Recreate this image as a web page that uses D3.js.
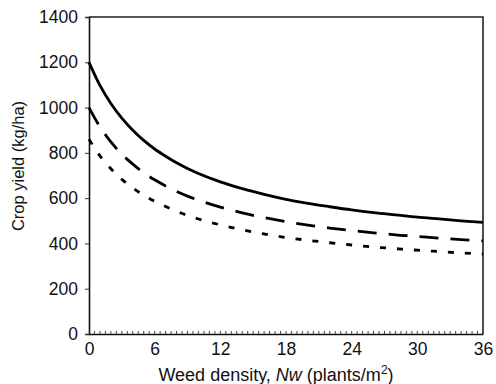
<!DOCTYPE html>
<html>
<head>
<meta charset="utf-8">
<script src="https://cdn.jsdelivr.net/npm/d3@7"></script>
<style>
  html, body { margin: 0; padding: 0; background: #fff; }
  svg { display: block; }
  text { font-family: "Liberation Sans", Arial, Helvetica, sans-serif; fill: #111; }
</style>
</head>
<body>
<svg id="chart" width="496" height="384"></svg>
<script>
// Weed density (plants/m2) at which crop yield is given
const density = [0, 1, 2, 3, 4, 5, 6, 7, 8, 9, 10, 12, 14, 16, 18, 20, 22, 24, 26, 28, 30, 32, 34, 36];

// Crop yield (kg/ha) for three weed-free yield levels
const yieldHigh = [1200, 1098, 1018, 953, 900, 855, 817, 785, 756, 731, 709, 672, 642, 617, 595, 577, 562, 548, 536, 526, 516, 508, 500, 493];
const yieldMid  = [1000, 915, 848, 794, 750, 712, 681, 654, 630, 609, 591, 560, 535, 514, 496, 481, 468, 457, 447, 438, 431, 423, 417, 411];
const yieldLow  = [860, 787, 730, 683, 645, 613, 586, 563, 542, 524, 508, 482, 460, 442, 426, 414, 403, 393, 384, 377, 370, 364, 358, 353];

const xTicks = [0, 6, 12, 18, 24, 30, 36];
const yTicks = [0, 200, 400, 600, 800, 1000, 1200, 1400];

const svg = d3.select("#chart");
const m = { left: 89, right: 483, top: 17, bottom: 334 };

const x = d3.scaleLinear().domain([0, 36]).range([m.left, m.right]);
const y = d3.scaleLinear().domain([0, 1400]).range([m.bottom, m.top]);

// frame: top and right borders
svg.append("path")
  .attr("d", `M${m.left},${m.top}H${m.right}V${m.bottom}`)
  .attr("fill", "none").attr("stroke", "#222").attr("stroke-width", 1.6);

// x axis: labels at multiples of 6, minor ticks pointing inward every half unit
const xAxis = svg.append("g").attr("transform", `translate(0,${m.bottom})`)
  .call(d3.axisBottom(x).tickValues(xTicks).tickSize(0).tickPadding(9).tickFormat(d3.format("d")));
xAxis.select(".domain").attr("stroke", "#111").attr("stroke-width", 1.6);
xAxis.selectAll("text").attr("font-size", 17.5).style("font-family", "Liberation Sans, Arial, sans-serif").attr("fill", "#111");

const minor = d3.range(0.5, 36, 0.5);
svg.append("g").selectAll("line").data(minor).join("line")
  .attr("x1", d => x(d)).attr("x2", d => x(d))
  .attr("y1", m.bottom).attr("y2", m.bottom - 3)
  .attr("stroke", "#333").attr("stroke-width", 0.9);

// y axis
const yAxis = svg.append("g").attr("transform", `translate(${m.left},0)`)
  .call(d3.axisLeft(y).tickValues(yTicks).tickSize(4).tickPadding(7).tickFormat(d3.format("d")));
yAxis.select(".domain").attr("stroke", "#111").attr("stroke-width", 1.6);
yAxis.selectAll(".tick line").attr("stroke", "#333");
yAxis.selectAll("text").attr("font-size", 17.5).style("font-family", "Liberation Sans, Arial, sans-serif").attr("fill", "#111");

// axis titles
const xt = svg.append("text")
  .attr("x", 276).attr("y", 381)
  .attr("text-anchor", "middle").attr("font-size", 18);
xt.append("tspan").text("Weed density, ");
xt.append("tspan").attr("font-style", "italic").text("Nw");
xt.append("tspan").text(" (plants/m");
xt.append("tspan").attr("font-size", 12).attr("dy", -7).text("2");
xt.append("tspan").attr("dy", 7).text(")");

svg.append("text")
  .attr("transform", `translate(24,166) rotate(-90)`)
  .attr("text-anchor", "middle").attr("font-size", 16.5)
  .text("Crop yield (kg/ha)");

// yield curves
const line = d3.line().x(d => x(d[0])).y(d => y(d[1])).curve(d3.curveMonotoneX);
const series = [
  { values: yieldHigh, dash: null },
  { values: yieldMid,  dash: "19,12" },
  { values: yieldLow,  dash: "6,11" }
];
svg.append("g").selectAll("path").data(series).join("path")
  .attr("d", s => line(density.map((d, i) => [d, s.values[i]])))
  .attr("fill", "none").attr("stroke", "#000").attr("stroke-width", 2.8)
  .attr("stroke-dasharray", s => s.dash);
</script>
</body>
</html>
